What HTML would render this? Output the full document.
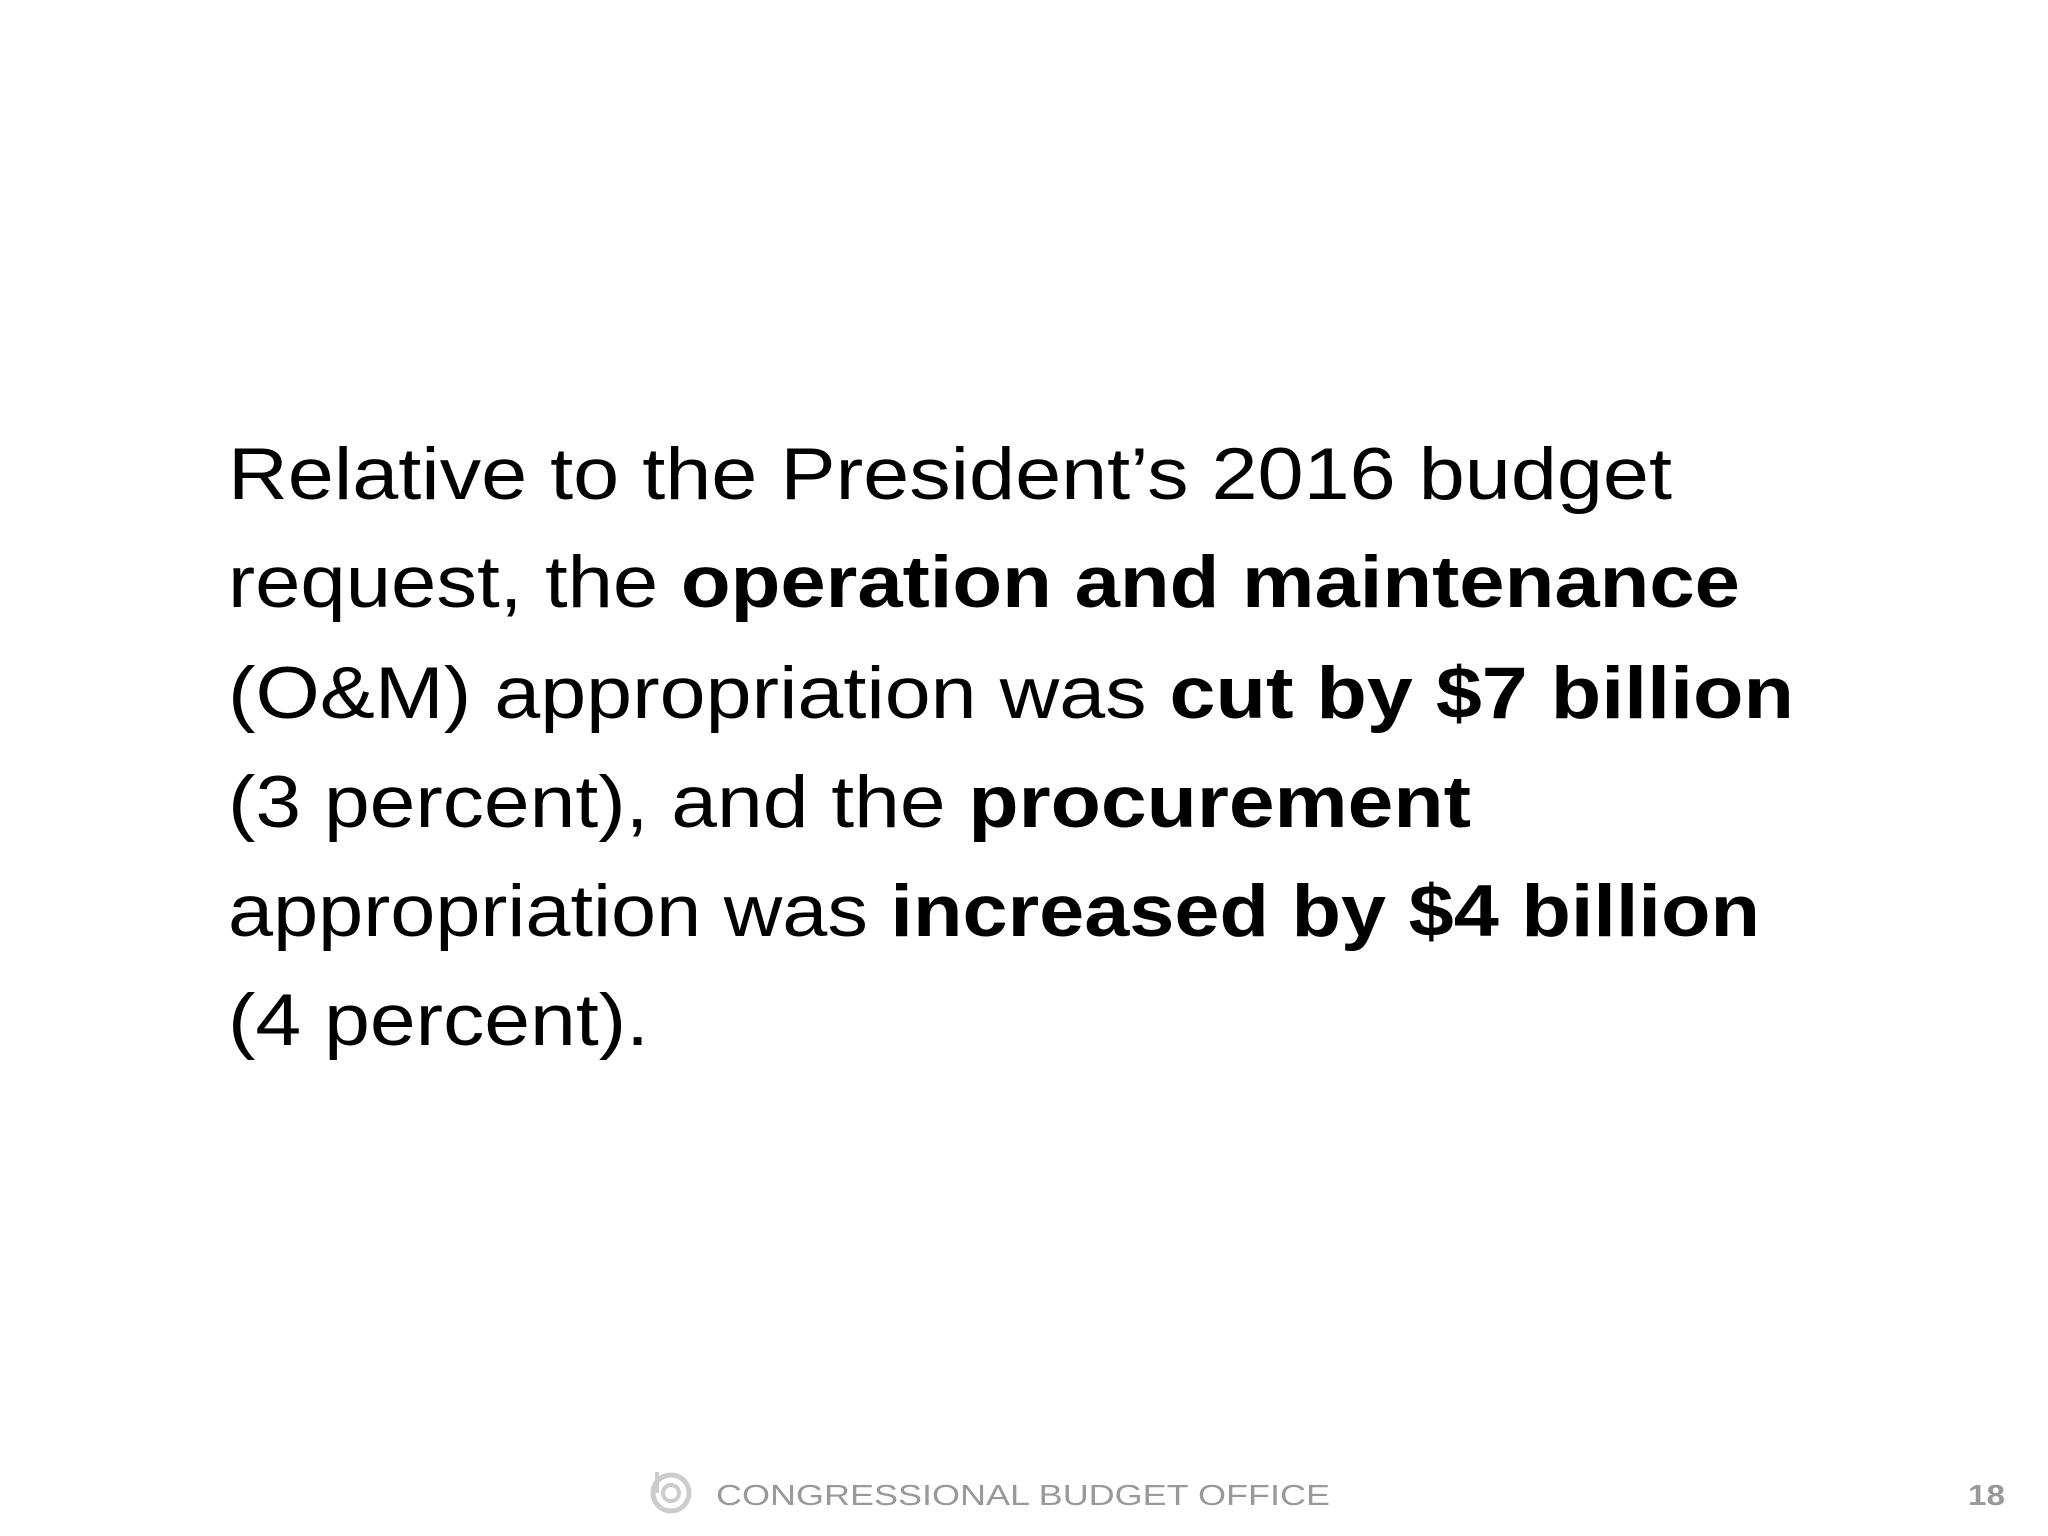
<!DOCTYPE html>
<html><head><meta charset="utf-8"><style>
html,body{margin:0;padding:0;background:#fff;width:2048px;height:1536px;overflow:hidden}
svg{display:block}
text{font-family:"Liberation Sans",sans-serif}
</style></head><body>
<svg width="2048" height="1536" viewBox="0 0 2048 1536">
<g font-size="73" fill="#000">
<text x="228" y="499" textLength="1444" lengthAdjust="spacingAndGlyphs">Relative to the President’s 2016 budget</text>
<text x="228" y="607" textLength="1512" lengthAdjust="spacingAndGlyphs">request, the <tspan font-weight="bold">operation and maintenance</tspan></text>
<text x="228" y="718" textLength="1566" lengthAdjust="spacingAndGlyphs">(O&amp;M) appropriation was <tspan font-weight="bold">cut by $7 billion</tspan></text>
<text x="228" y="827" textLength="1243" lengthAdjust="spacingAndGlyphs">(3 percent), and the <tspan font-weight="bold">procurement</tspan></text>
<text x="228" y="936" textLength="1532" lengthAdjust="spacingAndGlyphs">appropriation was <tspan font-weight="bold">increased by $4 billion</tspan></text>
<text x="228" y="1045" textLength="421" lengthAdjust="spacingAndGlyphs">(4 percent).</text>
</g>
<g fill="none" stroke="#ccc">
<circle cx="671" cy="1493" r="18" stroke-width="5"/>
<circle cx="671" cy="1493" r="8" stroke-width="4"/>
<line x1="657" y1="1472" x2="657" y2="1493" stroke-width="4"/>
</g>
<text x="716" y="1505" font-size="29" fill="#999" textLength="614" lengthAdjust="spacingAndGlyphs">CONGRESSIONAL BUDGET OFFICE</text>
<text x="1968" y="1505" font-size="29" font-weight="bold" fill="#999" textLength="37" lengthAdjust="spacingAndGlyphs">18</text>
</svg>
</body></html>
